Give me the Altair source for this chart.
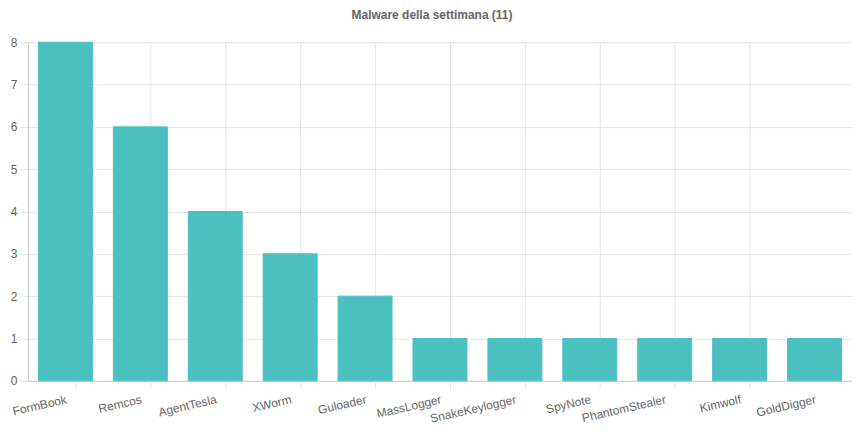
import altair as alt
import pandas as pd

malware = ["FormBook", "Remcos", "AgentTesla", "XWorm", "Guloader", "MassLogger",
           "SnakeKeylogger", "SpyNote", "PhantomStealer", "Kimwolf", "GoldDigger"]
counts = [8, 6, 4, 3, 2, 1, 1, 1, 1, 1, 1]

df = pd.DataFrame({"malware": malware, "count": counts})

FONT = "Liberation Sans, Arial, Helvetica, sans-serif"
W, H = 825, 339
STEP = W / len(malware)

xenc = alt.X("malware:N", sort=malware, title=None,
             scale=alt.Scale(paddingInner=0.28, paddingOuter=0.14),
             axis=alt.Axis(labelAngle=-13, labelAlign="right", labelBaseline="top",
                           grid=False, tickOpacity=0, tickSize=8, labelPadding=5,
                           domainColor="#cccccc", labelColor="#666666",
                           labelFont=FONT, labelFontSize=12))

base = alt.Chart(df)

vgrid = base.mark_rule(color="#e6e6e6", strokeWidth=1).encode(
    x=xenc,
    xOffset=alt.value(-STEP / 2),
    y=alt.value(0),
    y2=alt.value(H + 8),
)

bars = base.mark_bar(color="#4bc0c0", stroke="#4bc0c0", strokeWidth=1).encode(
    x=xenc,
    y=alt.Y("count:Q", title=None,
            scale=alt.Scale(domain=[0, 8], nice=False),
            axis=alt.Axis(values=list(range(0, 9)), grid=True, gridColor="#e6e6e6",
                          tickColor="#e6e6e6", tickSize=8, labelPadding=3,
                          domainColor="#cccccc", labelColor="#666666",
                          labelFont=FONT, labelFontSize=12)),
)

chart = alt.layer(vgrid, bars).properties(
    width=W,
    height=H,
    title=alt.TitleParams("Malware della settimana (11)", font=FONT, fontSize=12,
                          fontWeight="bold", color="#666666", anchor="middle",
                          offset=14, dx=-8),
    autosize=alt.AutoSizeParams(type="none"),
    padding={"left": 20, "top": 34, "right": 0, "bottom": 56},
).configure_view(stroke=None)

chart.save("out.html", embed_options={"renderer": "svg", "actions": False})
